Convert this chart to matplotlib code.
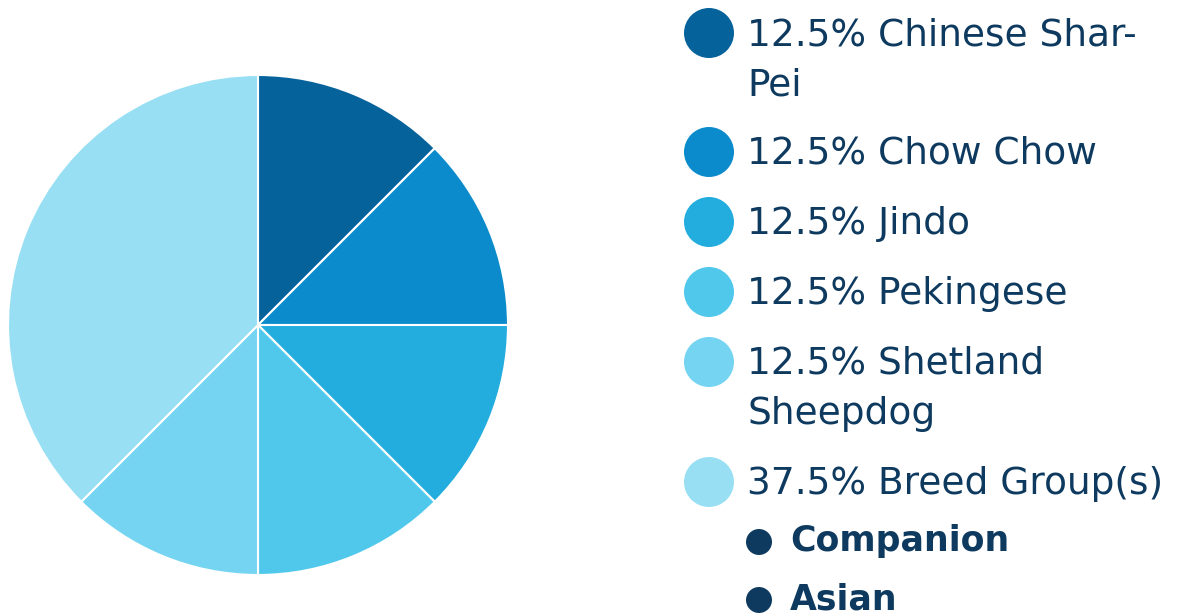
"""
Breed composition pie with a hand-built legend on the right.
"""
import matplotlib
matplotlib.use("Agg")
import matplotlib.pyplot as plt
from matplotlib.patches import Ellipse

# ---------------------------------------------------------------------------
# data
# ---------------------------------------------------------------------------
breeds = [["Chinese Shar-", "Pei"], ["Chow Chow"], ["Jindo"], ["Pekingese"],
          ["Shetland", "Sheepdog"], ["Breed Group(s)"]]
shares = [12.5, 12.5, 12.5, 12.5, 12.5, 37.5]
groups = ["Companion", "Asian"]

colors = ["#05629B", "#0B8BCB", "#23ACDE", "#50C8EB", "#74D4F2", "#98DFF4"]
TEXT_COLOR = "#0E3A5F"

W, H = 1187, 616
plt.rcParams['font.family'] = ['DejaVu Sans']

fig = plt.figure(figsize=(W / 100, H / 100), dpi=100)

# pie: centre (258, 325), radius 250 px
ax = fig.add_axes([8 / W, (H - 575) / H, 500 / W, 500 / H])
ax.pie(shares, colors=colors, startangle=90, counterclock=False,
       wedgeprops=dict(edgecolor='white', linewidth=1.5))
ax.set_xlim(-1, 1)
ax.set_ylim(-1, 1)
ax.set_aspect('equal')
ax.axis('off')


def fx(px):
    return px / W


def fy(py):
    return 1 - py / H


# legend rows: baseline of first line (px from top)
row_base = [45, 164, 234, 304, 374, 494]
line_gap = 50
for lines, v, c, base in zip(breeds, shares, colors, row_base):
    fig.patches.append(Ellipse((fx(709), fy(base - 12)), 50 / W, 50 / H,
                               transform=fig.transFigure,
                               facecolor=c, edgecolor='none'))
    for k, ln in enumerate(lines):
        txt = f"{v}% {ln}" if k == 0 else ln
        fig.text(fx(747), fy(base + k * line_gap), txt, color=TEXT_COLOR,
                 fontsize=27, ha='left', va='baseline')

for g, base in zip(groups, [551, 609]):
    fig.patches.append(Ellipse((fx(759), fy(base - 9)), 26 / W, 26 / H,
                               transform=fig.transFigure,
                               facecolor=TEXT_COLOR, edgecolor='none'))
    fig.text(fx(790), fy(base), g, color=TEXT_COLOR, fontsize=25,
             fontweight='semibold', ha='left', va='baseline')

fig.savefig("out.png", dpi=100)
